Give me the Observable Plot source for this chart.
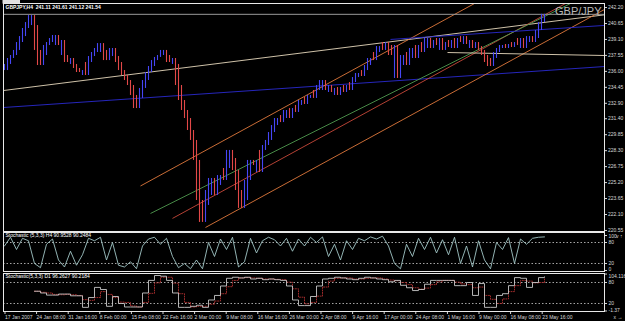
<!DOCTYPE html>
<html><head><meta charset="utf-8">
<script src="https://cdn.jsdelivr.net/npm/d3@7"></script>
<script src="https://cdn.jsdelivr.net/npm/@observablehq/plot@0.6"></script>
<style>
html,body{margin:0;padding:0;background:#000;}
#chart{position:relative;width:625px;height:321px;background:#000;overflow:hidden;font-family:"Liberation Sans",Arial,sans-serif;}
#chart svg{position:absolute;left:0;}
</style></head>
<body><div id="chart"></div>
<script>
// ---- data (H4 closes, one value per slot of ~4 H4 bars) ----
const closes = [236.08,236.67,237.25,237.54,238.03,238.80,239.38,240.16,240.74,241.42,
240.45,238.03,236.57,237.54,238.51,238.80,239.19,239.48,238.51,239.00,
237.54,236.86,237.25,236.67,236.28,235.89,236.08,235.60,236.86,237.44,
237.83,238.22,238.70,237.83,237.05,238.03,238.22,237.44,236.86,236.08,
235.60,235.11,234.63,233.66,232.39,233.37,234.34,235.11,235.89,236.47,
237.05,237.35,237.54,238.03,237.54,236.86,237.25,236.67,234.63,233.17,
232.20,231.42,230.26,229.29,227.35,223.46,221.33,222.98,224.43,225.60,
223.95,224.92,225.89,225.40,226.57,228.32,227.54,226.37,224.43,222.69,
223.46,225.40,227.35,226.86,227.35,226.18,228.32,228.80,229.29,230.06,
230.74,231.42,231.03,231.71,232.20,231.42,232.39,232.01,232.69,233.17,
232.78,233.46,233.66,233.37,234.14,234.63,235.11,234.14,234.63,233.95,
234.34,233.66,234.43,233.95,234.63,234.14,234.92,235.40,235.79,235.50,
236.08,236.57,237.25,237.05,237.83,238.41,238.03,238.80,238.22,237.54,
238.51,235.31,236.86,237.54,236.57,237.83,238.22,237.25,238.51,237.83,
238.80,239.19,238.22,239.00,238.51,239.19,238.03,238.80,238.32,239.00,
238.22,239.19,238.80,239.38,238.61,239.00,238.22,238.80,238.41,238.03,
237.54,236.86,236.47,237.25,237.83,238.22,238.51,238.22,238.61,238.32,
238.80,238.51,239.19,238.22,239.00,239.38,238.80,239.19,239.97,240.74,241.54];

const bidPrice = 241.54;
const headerText = "GBPJPY,H4  241.11 241.61 241.12 241.54";
const symbolText = "GBP/JPY";

const priceTicks = [242.20,240.65,239.10,237.55,236.00,234.45,232.90,231.40,229.85,228.30,226.75,225.20,223.65,222.10,220.55];

const timeTickSlots = [0,10.53,21.07,31.6,42.13,52.67,63.2,73.73,84.27,94.8,105.33,115.87,126.4,136.93,147.47,158,168.53,179.07];
const timeTickLabels = ["17 Jan 2007","24 Jan 08:00","31 Jan 16:00","8 Feb 00:00","15 Feb 08:00","22 Feb 16:00","2 Mar 00:00","9 Mar 08:00","16 Mar 16:00","26 Mar 00:00","2 Apr 08:00","9 Apr 16:00","17 Apr 00:00","24 Apr 08:00","1 May 16:00","9 May 00:00","16 May 08:00","23 May 16:00"];

// trend lines: [slot1, price1, slot2, price2, kind]
const trendLines = [
  [-0.33, 234.14, 200, 241.49, "beige"],
  [-0.33, 232.49, 200, 236.47, "blue"],
  [45.33, 224.87, 156.67, 242.59, "orange"],
  [56, 221.72, 187, 242.59, "red"],
  [67, 220.84, 200, 242.01, "orange"],
  [48.67, 222.20, 188.67, 242.59, "green"],
  [147.67, 237.83, 200, 237.54, "beige"],
  [128.67, 239.10, 200, 240.46, "blue"]
];
const lineColors = {beige:"#e6d8bc", blue:"#2a2ad0", orange:"#e0783c", red:"#c8483a", green:"#4f9a4f"};

// Stochastic H4 (%K), one value per 2 slots
const stochH4 = [70,95,60,92,85,20,8,75,90,30,10,55,15,45,92,85,95,30,80,15,
10,25,5,70,90,95,75,92,40,8,20,5,30,5,80,40,90,60,95,10,
25,92,50,85,95,88,70,92,55,90,70,95,80,96,40,75,30,85,60,92,
85,96,90,98,70,20,5,75,40,92,60,95,50,88,45,95,20,70,10,85,
30,5,80,60,94,20,90,75,92,95,96];
const h4Label = "Stochastic (5,3,3) H4 90.9528 90.2484";
const h4Ticks = [100,80,20,0];

// Stochastic D1 (%K and signal), one value per 2 slots
const stochD1 = [null,null,null,null,null,55,50,44,44,47,47,42,42,9,37,66,60,12,40,20,
10,10,10,50,86,100,98,86,50,9,9,12,15,9,30,43,70,92,95,93,
95,90,92,88,90,88,86,70,30,14,14,40,70,90,92,95,93,90,88,92,
95,93,90,88,82,86,72,65,57,60,75,86,86,86,86,71,71,80,43,77,
9,9,43,48,71,94,92,66,80,94,96];
const signalD1 = [null,null,null,null,null,55,52,50,46,45,46,45,43,31,29,37,54,46,37,24,
23,13,10,23,49,79,95,95,78,48,23,10,12,12,18,27,48,68,86,93,
94,93,92,90,90,89,88,81,62,38,19,23,41,67,84,92,93,93,90,90,
92,93,93,90,87,85,80,74,65,61,64,74,82,86,86,81,76,74,65,67,
43,32,20,33,54,71,86,84,79,80,90];
const d1Label = "Stochastic(5,3,3) D1 96.2627 90.2184";
const d1Ticks = [104.116,80,20,-1.37];

const levels = [80,20];

// ---- build tables ----
const bars = closes.map((c,k)=>{
  const p = k>0 ? closes[k-1] : c, n = k<closes.length-1 ? closes[k+1] : c;
  return {i:k, prev:p, close:c, lo:Math.min(p,c,n), hi:Math.max(p,c,n)};
});
const lines = trendLines.map(([a,b,c,d,k])=>({x1:a,y1:b,x2:c,y2:d,color:lineColors[k]}));
const h4 = stochH4.map((v,k)=>({x:2*k, v}));
const d1 = stochD1.map((v,k)=>({x:2*k, v, s:signalD1[k]}));

const W = 625, XDOM = [-0.333, 200];
const FS = 5;
const txt = "#d8d8d8";
const root = document.getElementById("chart");
const sty = {background:"transparent", color: txt, fontSize: FS+"px", fontFamily:"Liberation Sans, Arial, sans-serif"};

function place(svg, top){ svg.style.top = top+"px"; root.appendChild(svg); return svg; }

// right-hand labels with first label hanging below its level and last sitting above it
function sideLabels(ticks, fmt){
  const n = ticks.length;
  return [
    Plot.tickY(ticks, {y: d=>d, stroke: txt, strokeWidth:0.8, dx: 0, frameAnchor:"right", clip:false, render: null}),
    Plot.text(ticks, {y: d=>d, text: fmt, frameAnchor:"right", dx:4, textAnchor:"start", fill: txt, fontSize: FS,
      lineAnchor: (d,i)=> "middle"})
  ];
}

// main panel
const main = Plot.plot({
  width: W, height: 232,
  marginLeft: 3, marginRight: 21, marginTop: 3, marginBottom: 1,
  style: sty,
  x: {domain: XDOM, axis: null},
  y: {domain: [220.45, 242.59], axis: null},
  color: {type: "identity"},
  marks: [
    Plot.link(lines, {x1:"x1", y1:"y1", x2:"x2", y2:"y2", stroke:"color", strokeWidth:0.9, clip:true}),
    Plot.ruleY([bidPrice], {stroke:"#9a9a9a", strokeWidth:1}),
    Plot.ruleX(bars, {x:"i", y1:"lo", y2:"hi", stroke: d => d.close >= d.prev ? "#4646f5" : "#e24848", strokeWidth:1.1, clip:true}),
    Plot.axisY({anchor:"right", ticks: priceTicks, tickFormat: d=>d.toFixed(2), tickSize:2, tickPadding:1.5, fontSize:FS, stroke:txt}),
    Plot.text([headerText], {frameAnchor:"top-left", dx:2, dy:1.5, fill:"#ffffff", fontSize:FS, fontWeight:"bold", textAnchor:"start", lineAnchor:"top"}),
    Plot.text([symbolText], {frameAnchor:"top-right", dx:-3, dy:4, fill:"#b8b8b8", fontSize:11, textAnchor:"end", lineAnchor:"top"}),
    Plot.text([bidPrice], {x: XDOM[1], y: d=>d, text: d=>d.toFixed(2), dx:3, fill:"#000", fontSize:FS, textAnchor:"start", className:"bidlabel"}),
    Plot.frame({stroke:"#e8e8e8", strokeWidth:1})
  ]
});
place(main, 0);
d3.select(main).selectAll(".bidlabel text").each(function(){
  const b = this.getBBox();
  d3.select(this.parentNode).insert("rect", "text")
    .attr("x", b.x-1).attr("y", b.y-0.5).attr("width", b.width+2).attr("height", b.height+1)
    .attr("fill", "#e0e0e0");
});

function levelLabels(ticks){
  const n = ticks.length;
  return [
    Plot.text(ticks, {y: d=>d, text: d=>String(d), frameAnchor:"right", dx:4, textAnchor:"start", fill: txt, fontSize: FS,
      dy: (d)=>0, lineAnchor:"middle", filter: (d,i)=> i>0 && i<n-1}),
    Plot.text([ticks[0]], {y: d=>d, text: d=>String(d), frameAnchor:"right", dx:4, dy:-1, textAnchor:"start", fill: txt, fontSize: FS, lineAnchor:"top"}),
    Plot.text([ticks[n-1]], {y: d=>d, text: d=>String(d), frameAnchor:"right", dx:4, dy:1, textAnchor:"start", fill: txt, fontSize: FS, lineAnchor:"bottom"}),
    Plot.tickY(ticks, {y: d=>d, x: XDOM[1], dx: 2, stroke: txt, strokeWidth:0.8})
  ];
}

// stochastic H4 panel
const p2 = Plot.plot({
  width: W, height: 41,
  marginLeft: 3, marginRight: 21, marginTop: 1, marginBottom: 1,
  style: sty,
  x: {domain: XDOM, axis: null},
  y: {domain: [-2.9, 108.6], axis: null},
  marks: [
    Plot.ruleY(levels, {stroke:"#cfcfcf", strokeWidth:0.8, strokeDasharray:"1.5,2"}),
    Plot.line(h4, {x:"x", y:"v", stroke:"#a2c6c6", strokeWidth:0.9}),
    Plot.axisY({anchor:"right", ticks: h4Ticks, tickFormat: ()=>"", tickSize:2, tickPadding:0}),
    Plot.text(h4Ticks.slice(1,3), {y:d=>d, text:d=>String(d), frameAnchor:"right", dx:4, textAnchor:"start", fill:txt, fontSize:FS}),
    Plot.text([h4Ticks[0]], {y:d=>d, text:d=>String(d), frameAnchor:"right", dx:4, textAnchor:"start", fill:txt, fontSize:FS, lineAnchor:"top", dy:-1}),
    Plot.text([h4Ticks[3]], {y:d=>d, text:d=>String(d), frameAnchor:"right", dx:4, textAnchor:"start", fill:txt, fontSize:FS, lineAnchor:"bottom", dy:1}),
    Plot.text([h4Label], {frameAnchor:"top-left", dx:2, dy:1, fill:"#ffffff", fontSize:FS, textAnchor:"start", lineAnchor:"top"}),
    Plot.frame({stroke:"#e8e8e8", strokeWidth:1})
  ]
});
place(p2, 231);

// stochastic D1 panel + time axis
const p3 = Plot.plot({
  width: W, height: 49,
  marginLeft: 3, marginRight: 21, marginTop: 1, marginBottom: 10,
  style: sty,
  x: {domain: XDOM, axis: null},
  y: {domain: [-2.86, 105.7], axis: null},
  marks: [
    Plot.ruleY(levels, {stroke:"#cfcfcf", strokeWidth:0.8, strokeDasharray:"1.5,2"}),
    Plot.line(d1, {x:"x", y:"s", stroke:"#b03030", strokeWidth:0.9, strokeDasharray:"1,1.5", curve:"step-after", defined: d=>d.s!=null}),
    Plot.line(d1, {x:"x", y:"v", stroke:"#c8c8c8", strokeWidth:0.9, curve:"step-after", defined: d=>d.v!=null}),
    Plot.axisY({anchor:"right", ticks: d1Ticks, tickFormat: ()=>"", tickSize:2, tickPadding:0}),
    Plot.text(d1Ticks.slice(1,3), {y:d=>d, text:d=>String(d), frameAnchor:"right", dx:4, textAnchor:"start", fill:txt, fontSize:FS}),
    Plot.text([d1Ticks[0]], {y:d=>d, text:d=>String(d), frameAnchor:"right", dx:4, textAnchor:"start", fill:txt, fontSize:FS, lineAnchor:"top", dy:0}),
    Plot.text([d1Ticks[3]], {y:d=>d, text:d=>String(d), frameAnchor:"right", dx:4, textAnchor:"start", fill:txt, fontSize:FS, lineAnchor:"bottom", dy:1}),
    Plot.axisX({ticks: timeTickSlots, tickFormat: d=>timeTickLabels[timeTickSlots.indexOf(d)], tickSize:3, tickPadding:1, fontSize:FS, textAnchor:"start", dx:0.5}),
    Plot.text([d1Label], {frameAnchor:"top-left", dx:2, dy:1, fill:"#ffffff", fontSize:FS, textAnchor:"start", lineAnchor:"top"}),
    Plot.frame({stroke:"#e8e8e8", strokeWidth:1})
  ]
});
place(p3, 272);
</script></body></html>
